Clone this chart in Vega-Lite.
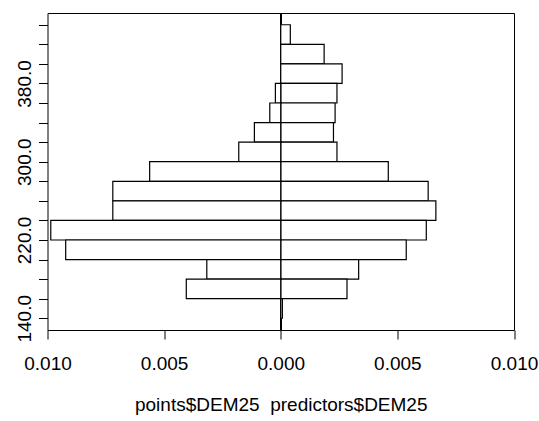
{
  "$schema": "https://vega.github.io/schema/vega-lite/v6.json",
  "width": 466.5,
  "height": 317,
  "autosize": {"type": "none"},
  "padding": {"left": 47.5, "top": 13, "right": 25, "bottom": 91},
  "background": "white",
  "config": {
    "view": {"stroke": "black", "strokeWidth": 1},
    "font": "Liberation Sans",
    "axis": {
      "grid": false,
      "domain": false,
      "tickColor": "black",
      "tickSize": 9,
      "tickWidth": 1,
      "labelColor": "black",
      "labelFont": "Liberation Sans",
      "labelFontSize": 19,
      "titleFont": "Liberation Sans",
      "titleFontSize": 19,
      "titleFontWeight": "normal",
      "titleColor": "black",
      "labelOverlap": false,
      "labelBound": false,
      "labelFlush": false
    }
  },
  "data": {
    "values": [
      {"bin": 0, "lo": 14, "hi": 15, "group": "predictors", "value": 0.00041},
      {"bin": 1, "lo": 13, "hi": 14, "group": "predictors", "value": 0.00186},
      {"bin": 2, "lo": 12, "hi": 13, "group": "predictors", "value": 0.00263},
      {"bin": 3, "lo": 11, "hi": 12, "group": "predictors", "value": 0.00241},
      {"bin": 4, "lo": 10, "hi": 11, "group": "predictors", "value": 0.00233},
      {"bin": 5, "lo": 9, "hi": 10, "group": "predictors", "value": 0.00226},
      {"bin": 6, "lo": 8, "hi": 9, "group": "predictors", "value": 0.00241},
      {"bin": 7, "lo": 7, "hi": 8, "group": "predictors", "value": 0.00461},
      {"bin": 8, "lo": 6, "hi": 7, "group": "predictors", "value": 0.00632},
      {"bin": 9, "lo": 5, "hi": 6, "group": "predictors", "value": 0.00665},
      {"bin": 10, "lo": 4, "hi": 5, "group": "predictors", "value": 0.00624},
      {"bin": 11, "lo": 3, "hi": 4, "group": "predictors", "value": 0.00538},
      {"bin": 12, "lo": 2, "hi": 3, "group": "predictors", "value": 0.00334},
      {"bin": 13, "lo": 1, "hi": 2, "group": "predictors", "value": 0.00284},
      {"bin": 14, "lo": 0, "hi": 1, "group": "predictors", "value": 0.00007},
      {"bin": 3, "lo": 11, "hi": 12, "group": "points", "value": -0.00023},
      {"bin": 4, "lo": 10, "hi": 11, "group": "points", "value": -0.00047},
      {"bin": 5, "lo": 9, "hi": 10, "group": "points", "value": -0.00113},
      {"bin": 6, "lo": 8, "hi": 9, "group": "points", "value": -0.0018},
      {"bin": 7, "lo": 7, "hi": 8, "group": "points", "value": -0.00562},
      {"bin": 8, "lo": 6, "hi": 7, "group": "points", "value": -0.0072},
      {"bin": 9, "lo": 5, "hi": 6, "group": "points", "value": -0.0072},
      {"bin": 10, "lo": 4, "hi": 5, "group": "points", "value": -0.00986},
      {"bin": 11, "lo": 3, "hi": 4, "group": "points", "value": -0.00922},
      {"bin": 12, "lo": 2, "hi": 3, "group": "points", "value": -0.00317},
      {"bin": 13, "lo": 1, "hi": 2, "group": "points", "value": -0.00405}
    ]
  },
  "layer": [
    {
      "mark": {"type": "rule", "color": "black", "strokeWidth": 1.5},
      "encoding": {"x": {"datum": 0, "type": "quantitative"}}
    },
    {
      "mark": {"type": "rect", "fill": "white", "stroke": "black", "strokeWidth": 1.2},
      "encoding": {
        "x": {
          "field": "value",
          "type": "quantitative",
          "scale": {"domain": [-0.01, 0.01], "nice": false, "zero": false},
          "axis": {
            "values": [-0.01, -0.005, 0, 0.005, 0.01],
            "labelExpr": "format(abs(datum.value), '.3f')",
            "labelBaseline": "alphabetic",
            "labelPadding": 30,
            "title": "points$DEM25\u00a0\u00a0predictors$DEM25",
            "titleBaseline": "alphabetic",
            "titleAnchor": "middle",
            "titleY": 80
          }
        },
        "x2": {"datum": 0},
        "y": {
          "field": "lo",
          "type": "quantitative",
          "scale": {"domain": [-0.6, 15.6], "nice": false, "zero": false},
          "axis": {
            "values": [0, 1, 2, 3, 4, 5, 6, 7, 8, 9, 10, 11, 12, 13, 14, 15],
            "labelExpr": "datum.value == 0 ? '140.0' : datum.value == 4 ? '220.0' : datum.value == 8 ? '300.0' : datum.value == 12 ? '380.0' : ''",
            "labelAngle": -90,
            "labelAlign": "center",
            "labelBaseline": "alphabetic",
            "labelPadding": 8,
            "title": null
          }
        },
        "y2": {"field": "hi"}
      }
    }
  ]
}
